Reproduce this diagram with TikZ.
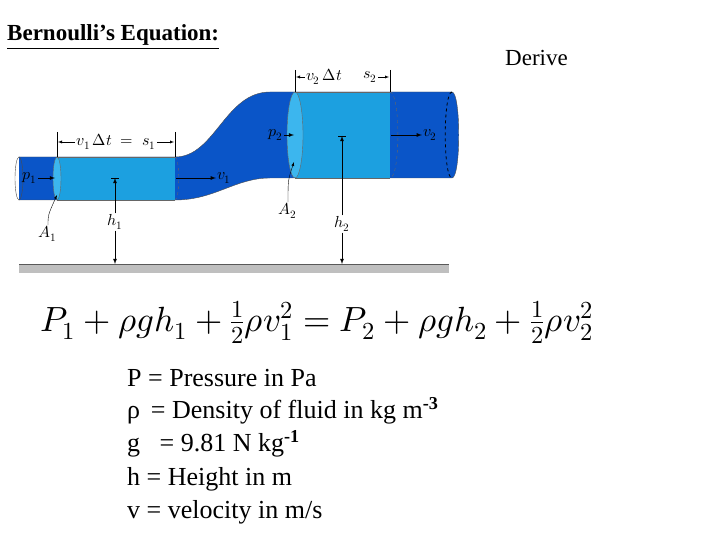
\documentclass[tikz,border=0pt]{standalone}
\usepackage{amsmath}
\usepackage{unicode-math}
\setmainfont{Liberation Serif}
\setmathfont{Latin Modern Math}
\definecolor{dk}{HTML}{0A55C8}
\definecolor{lt}{HTML}{1CA0E0}
\definecolor{lt2}{HTML}{3CB6EE}
\tikzset{lab/.style={font=\fontsize{16}{18}\selectfont,inner sep=1pt},
 txt/.style={anchor=west,font=\fontsize{26}{29}\selectfont,inner sep=0pt},
 arr/.style={-latex,thick}}
\begin{document}
\begin{tikzpicture}[x=1pt,y=-1pt]
\useasboundingbox (0,0) rectangle (720,540);
% ground
\fill[gray!50] (19,264) rectangle (449,273);
\draw[gray!70!black] (19,264) -- (449,264);
% pipe body
\fill[dk] (19,157) -- (175,157) .. controls (215,157) and (225,92) .. (270,92) -- (452,92)
  .. controls (461,92) and (461,178) .. (452,178) -- (270,178)
  .. controls (235,178) and (215,200) .. (175,200) -- (19,200) -- cycle;
\draw[black!70] (19,157) -- (175,157) .. controls (215,157) and (225,92) .. (270,92) -- (452,92)
  .. controls (461,92) and (461,178) .. (452,178);
\draw[black!70] (19,200) -- (175,200) .. controls (215,200) and (235,178) .. (270,178) -- (452,178);
\draw[black!70] (19,178.5) ellipse[x radius=4,y radius=21.5];
\draw[black, dashed, thick] (452,92) .. controls (443,92) and (443,178) .. (452,178);
% fluid slabs
\fill[lt] (57,157) rectangle (175,200);
\fill[lt] (295,92) rectangle (390,178);
\fill[lt2,draw=black!60] (57,178.5) ellipse[x radius=4,y radius=21.5];
\fill[lt2,draw=black!60] (295,135) ellipse[x radius=8,y radius=43];
\draw[black!60,dashed] (175,157) .. controls (180,157) and (180,200) .. (175,200);
\draw[black!60,dashed] (390,92) .. controls (400.5,92) and (400.5,178) .. (390,178);
\draw[black!60] (57,157) -- (175,157) (57,200) -- (175,200) (295,92) -- (390,92) (295,178) -- (390,178);
% labels/arrows
\node[lab] (p1) at (30,178) {$p_1$};
\coordinate (p1e) at (55,178);
\draw[arr] (p1.east) -- (p1e);
\node[lab] (v1) at (224,178) {$v_1$};
\coordinate (v1s) at (176,178);
\draw[arr] (v1s) -- (v1.west);
\node[lab] (p2) at (276,135) {$p_2$};
\coordinate (p2e) at (294,135);
\draw[arr] (p2.east) -- (p2e);
\node[lab] (v2) at (430,135) {$v_2$};
\coordinate (v2s) at (391,135);
\draw[arr] (v2s) -- (v2.west);
% heights
\coordinate (h1t) at (115,178); \coordinate (h1b) at (115,264);
\node[lab,fill=white] (h1) at (115,222) {$h_1$};
\draw[arr] (h1) -- (h1b); \draw[arr] (h1) -- (h1t);
\draw (111,178) -- (119,178);
\coordinate (h2t) at (342,136); \coordinate (h2b) at (342,264);
\node[lab,fill=white] (h2) at (342,224) {$h_2$};
\draw[arr] (h2) -- (h2b); \draw[arr] (h2) -- (h2t);
\draw (338,136) -- (346,136);
% A labels
\node[lab] (A1) at (48,234) {$A_1$};
\coordinate (A1e) at (57,195);
\draw[-latex] (A1.north) .. controls (48,215) .. (A1e);
\node[lab] (A2) at (288,211) {$A_2$};
\coordinate (A2e) at (294,162);
\draw[-latex] (A2.north) .. controls (288,180) .. (A2e);
% dimension s1
\draw (57,132) -- (57,157) (175,132) -- (175,157);
\node[lab] (s1) at (116,142) {$v_1\,\Delta t\;=\;s_1$};
\coordinate (s1l) at (58,142); \coordinate (s1r) at (174,142);
\draw[-latex] (s1.west) -- (s1l); \draw[-latex] (s1.east) -- (s1r);
% dimension s2
\draw (295,70) -- (295,92) (390,70) -- (390,92);
\node[lab] (vd) at (324,77) {$v_2\,\Delta t$};
\node[lab] (s2) at (370,77) {$s_2$};
\coordinate (s2l) at (296,77); \coordinate (s2r) at (389,77);
\draw[-latex] (vd.west) -- (s2l); \draw[-latex] (s2.east) -- (s2r);
% title
\node[anchor=west,inner sep=0pt,font=\bfseries\fontsize{23}{26}\selectfont] (title) at (7,37) {\underline{Bernoulli’s Equation:}};
\node[anchor=west,inner sep=0pt,font=\fontsize{23}{26}\selectfont] (der) at (505,58) {Derive};
% equation
\node[anchor=west,inner sep=0pt,font=\fontsize{35}{38}\selectfont] (eq) at (40,322)
 {$P_1+\rho g h_1+\tfrac12\rho v_1^2=P_2+\rho g h_2+\tfrac12\rho v_2^2$};
% legend
\node[txt] (l1) at (127,378) {P = Pressure in Pa};
\node[txt] (l2) at (127,411) {ρ\, = Density of fluid in kg m\textsuperscript{\textbf{-3}}};
\node[txt] (l3) at (127,444) {g\,\,\, = 9.81 N kg\textsuperscript{\textbf{-1}}};
\node[txt] (l4) at (127,479) {h = Height in m};
\node[txt] (l5) at (127,512) {v = velocity in m/s};
\end{tikzpicture}
\end{document}
